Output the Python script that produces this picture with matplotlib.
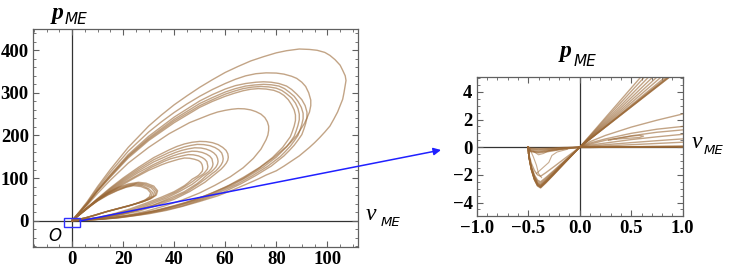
import matplotlib
matplotlib.use("Agg")
import matplotlib.pyplot as plt
from matplotlib.patches import Rectangle
from matplotlib.ticker import MultipleLocator

# ---- left panel: orbits in the (v_ME, p_ME) plane ----
outer_v = [0, 3, 6, 10, 15, 22, 30, 35, 40, 45, 50, 55, 60, 65, 70, 75, 80, 84, 89, 93,
           96, 99, 101, 103, 105, 106, 107, 107.3, 107, 106.5, 106, 105, 104, 102.5, 101, 99, 97, 95, 93, 91,
           89, 86, 83, 80, 76, 73, 70, 63, 57, 50, 43, 37, 30, 24, 17, 11, 5, 0]
outer_p = [0, 22, 45, 80, 120, 172, 222, 248, 272, 293, 313, 331, 348, 362, 375, 385, 394, 399, 403, 402,
           400, 395, 388, 378, 365, 353, 340, 329, 318, 300, 285, 270, 255, 238, 222, 208, 195, 183, 172, 162,
           152, 140, 128, 117, 107, 98, 90, 72, 58, 45, 33, 24, 16, 11, 6, 3, 1, 0]

second_v = [0, 3, 6, 10, 15, 22, 30, 35, 40, 45, 50, 55, 60, 64, 68, 72, 76, 80, 83, 86,
            88, 90, 91.5, 92.7, 93.5, 93.5, 93, 92, 91, 89.5, 88, 86, 84, 79, 73, 67, 60, 52, 44, 36,
            28, 20, 12, 5, 0]
second_p = [0, 21, 43, 76, 114, 163, 208, 232, 254, 274, 292, 308, 322, 332, 340, 345, 347, 346.5, 344, 339,
            334, 325, 315, 300, 283, 270, 255, 241, 228, 214, 200, 186, 174, 148, 122, 99, 78, 58, 41, 28,
            17, 10, 4, 1, 0]

mid_a_v = [0, 3, 6, 10, 15, 22, 30, 40, 50, 55, 60, 64, 68, 72, 75, 78, 81, 84, 86, 88,
           90, 91.3, 92, 92, 91.5, 90.8, 90, 88.5, 87, 85, 83, 78, 72, 66, 59, 51, 43, 35, 27, 19,
           11, 5, 0]
mid_a_p = [0, 20, 41, 72, 108, 155, 198, 243, 281, 296, 309, 317, 322, 325, 326, 325, 322, 316, 308, 297,
           284, 270, 255, 241, 228, 215, 202, 189, 177, 164, 152, 128, 106, 86, 66, 49, 34, 23, 14, 7,
           3, 1, 0]

mid_b_v = [0, 3, 6, 10, 15, 22, 30, 40, 50, 55, 60, 64, 68, 71.5, 75, 78, 81, 83.2, 85, 87,
           88.5, 89.8, 90.5, 90.5, 90, 89.3, 88.5, 87, 85.5, 83.5, 81.5, 76.5, 70.5, 64.5, 57.5, 50, 42, 34, 26, 18,
           10, 5, 0]
mid_b_p = [0, 20, 40, 71, 106, 152, 194, 238, 275, 289, 302, 310, 316, 318.5, 320, 319, 316, 310, 302, 292,
           280, 266, 252, 239, 226, 213, 200, 187, 175, 162, 150, 127, 105, 85, 66, 49, 35, 23, 14, 7,
           3, 1, 0]

mid_c_v = [0, 3, 6, 10, 15, 22, 30, 40, 50, 55, 60, 63.5, 67, 70.5, 74, 77, 80, 82.2, 84, 86,
           87.5, 88.5, 89, 89, 88.5, 87.8, 87, 85.5, 84, 82, 80, 75, 69, 63, 56, 49, 41, 33, 25, 17,
           10, 5, 0]
mid_c_p = [0, 20, 40, 70, 104, 150, 191, 234, 270, 284, 297, 304, 310, 313.5, 315, 314, 311, 305.5, 298, 288,
           276, 263, 250, 237, 224, 211, 198, 185, 173, 161, 149, 126, 104, 84, 65, 49, 35, 23, 14, 7,
           3, 1, 0]

mid_d_v = [0, 3, 6, 10, 15, 22, 30, 40, 50, 55, 60, 63.5, 67, 70, 73, 76, 79, 81.2, 83, 84.7,
           86, 87, 87.5, 87.5, 87, 86.3, 85.5, 84, 82.5, 80.5, 78.5, 73.5, 67.5, 61.5, 55, 48, 40, 32, 24, 17,
           10, 5, 0]
mid_d_p = [0, 19, 39, 69, 102, 147, 188, 230, 266, 280, 292, 299, 305, 308.5, 310, 309, 306, 301, 294, 284,
           272, 260, 248, 235, 222, 209.5, 197, 184.5, 172, 160, 148, 125, 103, 83, 65, 49, 35, 23, 14, 8,
           3, 1, 0]

inner_v = [0, 3, 6, 10, 15, 22, 30, 38, 46, 54, 57, 60, 62.5, 65, 67.5, 70, 72, 74, 75.5, 76.5,
           77, 77, 76.7, 76, 75, 74, 72.5, 71, 67, 62, 56, 50, 43, 36, 29, 22, 15, 8, 0]
inner_p = [0, 18, 37, 64, 95, 135, 172, 204, 230, 249, 255, 259, 261.5, 263, 262.5, 260, 256, 250, 242, 232,
           222, 212, 201, 190, 179, 168, 157, 146, 124, 103, 83, 65, 48, 34, 22, 13, 7, 3, 0]

g5a_v = [0, 3, 6, 10, 15, 20, 26, 32, 38, 41, 44, 47, 50, 52.5, 55, 57.2, 59, 60.3, 61, 61.2,
         61, 60.4, 59.5, 58.4, 57, 54.5, 52, 46, 40, 33, 26, 18, 10, 0]
g5a_p = [0, 15, 31, 52, 77, 100, 125, 148, 166, 174, 180, 184, 186, 185.5, 183, 178.5, 172, 165, 157, 149,
         142, 135, 128, 121, 114, 102, 90, 68, 50, 35, 22, 12, 5, 0]

g5b_v = [0, 3, 6, 10, 15, 20, 26, 32, 38, 41, 44, 46.5, 49, 51.5, 54, 56, 57.5, 58.6, 59, 59.2,
         59, 58.4, 57.5, 56.4, 55, 52.5, 50, 45, 39, 32, 25, 18, 10, 0]
g5b_p = [0, 15, 30, 51, 75, 97, 121, 143, 160, 167, 173, 176.5, 179, 178.5, 176, 171.5, 166, 159, 152, 145,
         138, 131, 124, 117, 111, 99, 88, 68, 51, 36, 23, 13, 5, 0]

g5c_v = [0, 3, 6, 10, 15, 20, 26, 32, 38, 40.5, 43, 45.5, 48, 50.5, 52.5, 54.2, 55.5, 56.5, 57, 57.2,
         57, 56.4, 55.5, 54.4, 53, 51, 49, 44, 38, 32, 25, 18, 10, 0]
g5c_p = [0, 15, 30, 50, 73, 94, 117, 138, 154, 160, 165, 168.5, 171, 170.5, 168, 164, 159, 153, 146, 139,
         133, 126, 120, 114, 108, 97, 87, 68, 52, 37, 24, 14, 6, 0]

g5d_v = [0, 3, 6, 10, 15, 20, 26, 32, 37, 39.5, 42, 44.5, 47, 49, 51, 52.7, 54, 54.8, 55, 55.2,
         55, 54.4, 53.5, 52.3, 51, 49, 47, 42, 37, 31, 25, 18, 10, 0]
g5d_p = [0, 14, 29, 49, 71, 91, 113, 132, 146, 152, 157, 160.5, 163, 162.5, 160, 156, 151, 145, 139, 133,
         127, 121, 115, 109.5, 104, 94, 85, 68, 53, 39, 26, 15, 6, 0]

g5e_v = [0, 3, 6, 10, 15, 20, 26, 31, 36, 38.5, 41, 43.5, 45.5, 47.5, 49.5, 51, 52, 52.8, 53, 53.2,
         53, 52.3, 51.5, 50.3, 49, 47, 45, 41, 36, 30, 24, 17, 10, 0]
g5e_p = [0, 14, 29, 48, 69, 88, 108, 125, 139, 145, 149, 152.5, 155, 154.5, 152, 148, 144, 138.5, 133, 127,
         121, 115.5, 110, 105, 100, 91, 83, 68, 54, 40, 27, 16, 6, 0]

g5f_v = [0, 3, 6, 10, 15, 20, 25, 30, 35, 37.5, 40, 42, 44, 46, 48, 49.5, 50.4, 50.9, 51.1, 51.2,
         51, 50.3, 49.5, 48.3, 47, 45.5, 44, 40, 35, 29, 23, 17, 10, 0]
g5f_p = [0, 14, 28, 47, 67, 85, 102, 118, 131, 136.5, 141, 144.5, 147, 146.5, 144, 141, 137, 132, 127, 121.5,
         116, 111, 106, 101.5, 97, 89, 82, 68, 55, 41, 28, 17, 7, 0]

small_a_v = [0, 2, 4, 7, 10, 14, 18, 22, 26, 29, 32, 33.5, 33, 31, 28, 24, 19, 14, 9, 5, 0]
small_a_p = [0, 10, 21, 36, 50, 66, 78, 86, 90, 88, 81, 70, 60, 52, 45, 38, 30, 22, 13, 6, 0]

small_b_v = [0, 2, 4, 7, 10, 14, 18, 22, 25.5, 28.5, 31.5, 33, 32.5, 30.5, 27.5, 23.5, 19, 14, 9, 5, 0]
small_b_p = [0, 10, 20, 35, 49, 64, 76, 84, 88, 86, 79, 69, 59, 51, 44, 37, 30, 22, 13, 6, 0]

small_c_v = [0, 2, 4, 7, 10, 14, 18, 22, 25, 28, 31, 32.3, 31.8, 30, 27, 23, 18.5, 14, 9, 5, 0]
small_c_p = [0, 10, 20, 35, 48, 63, 74, 82, 86, 84, 77, 68, 58, 50, 43, 36, 29, 22, 13, 6, 0]

small_d_v = [0, 2, 4, 7, 10, 14, 18, 21.5, 24.5, 27.5, 30, 31.5, 31, 29, 26, 22.5, 18, 13.5, 9, 5, 0]
small_d_p = [0, 10, 20, 34, 47, 61, 72, 80, 84, 82, 75, 66, 57, 49, 42, 35, 28, 21, 13, 6, 0]

small_e_v = [0, 2, 4, 7, 10, 14, 17.5, 21, 24, 27, 29.5, 30.8, 30.3, 28.5, 25.5, 22, 17.5, 13, 9, 5, 0]
small_e_p = [0, 10, 20, 34, 46, 60, 70, 78, 82, 80, 74, 65, 56, 48, 41, 34, 27, 20, 12, 6, 0]

# ---- right panel: neighbourhood of the origin ----
# end point of each upper branch where it leaves the frame (p = 5)
fan_top_v = [0.585, 0.62, 0.66, 0.70, 0.74, 0.78, 0.82, 0.84, 0.85, 0.86, 0.86]
# depth of the dip for v < 0, paired with fan_top_v
dip_p = [-2.5, -2.6, -2.7, -2.75, -2.8, -2.85, -2.9, -2.9, -2.95, -2.85, -2.1]

v_left_edge = -0.5
dip_v = [-0.49, -0.47, -0.44, -0.41, -0.38, -0.33, -0.25, -0.15]
dip_frac = [0.28, 0.55, 0.8, 0.95, 1.0, 0.88, 0.67, 0.4]

flat_v = [-0.5, -0.48, -0.4, -0.3, -0.15, 0.0]
flat_a_p = [0.0, -0.25, -0.32, -0.22, -0.1, 0.0]
flat_b_p = [0.0, -0.15, -0.2, -0.14, -0.06, 0.0]
flat_c_p = [0.0, -0.08, -0.1, -0.08, -0.03, 0.0]
flat_d_p = [0.0, -0.3, -0.4, -0.3, -0.12, 0.0]

wig_a_v = [-0.48, -0.45, -0.42, -0.40, -0.37]
wig_a_p = [-0.2, -0.7, -1.3, -1.9, -2.2]
wig_b_v = [-0.45, -0.40, -0.35, -0.30, -0.20, -0.10, 0.0]
wig_b_p = [-0.3, -0.55, -0.45, -0.25, -0.15, -0.05, 0.0]
wig_c_v = [-0.42, -0.36, -0.30, -0.27, -0.22, -0.12]
wig_c_p = [-1.9, -1.5, -1.1, -0.6, -0.35, -0.15]

low_v = [0.0, 0.1, 0.25, 0.5, 0.75, 1.0]
low_a_p = [0.0, 0.4, 0.85, 1.45, 1.95, 2.4]
low_b_p = [0.0, 0.3, 0.6, 1.0, 1.3, 1.5]
low_c_p = [0.0, 0.22, 0.5, 0.82, 1.08, 1.25]
low_d_p = [0.0, 0.15, 0.3, 0.55, 0.75, 0.93]
low_e_p = [0.0, 0.08, 0.18, 0.33, 0.47, 0.6]
low_f_p = [0.0, 0.04, 0.09, 0.18, 0.27, 0.36]
low_g_p = [0.0, 0.0, 0.01, 0.02, 0.03, 0.04]

knot_v = [0.28, 0.40, 0.50, 0.58, 0.62, 0.58, 0.48, 0.38, 0.30]
knot_p = [0.50, 0.68, 0.80, 0.85, 0.80, 0.70, 0.65, 0.60, 0.55]

brown = "#9a6836"
frame_col = "#606060"

fig = plt.figure(figsize=(7.32, 2.73), dpi=100)
ax1 = fig.add_axes([33 / 732, 26 / 273, 325 / 732, 218 / 273])
ax2 = fig.add_axes([476.7 / 732, 57.3 / 273, 206 / 732, 138.4 / 273])

left_loops = [(outer_v, outer_p), (second_v, second_p), (mid_a_v, mid_a_p), (mid_b_v, mid_b_p),
              (mid_c_v, mid_c_p), (mid_d_v, mid_d_p), (inner_v, inner_p),
              (g5a_v, g5a_p), (g5b_v, g5b_p), (g5c_v, g5c_p), (g5d_v, g5d_p), (g5e_v, g5e_p),
              (g5f_v, g5f_p), (small_a_v, small_a_p), (small_b_v, small_b_p),
              (small_c_v, small_c_p), (small_d_v, small_d_p), (small_e_v, small_e_p)]
for v, p in left_loops:
    ax1.plot(v, p, color=brown, lw=1.0, alpha=0.6, solid_joinstyle="round")

ax1.axhline(0, color="#333333", lw=0.9, zorder=1)
ax1.axvline(0, color="#333333", lw=0.9, zorder=1)
ax1.set_xlim(-15.3, 112)
ax1.set_ylim(-62, 450)
ax1.xaxis.set_minor_locator(MultipleLocator(5))
ax1.yaxis.set_minor_locator(MultipleLocator(20))
ax1.set_xticks([0, 20, 40, 60, 80, 100])
ax1.set_yticks([0, 100, 200, 300, 400])

# right panel: dip for v<0, then straight up branch through the origin
for vt, dp in zip(fan_top_v, dip_p):
    v = [v_left_edge] + dip_v + [0.0, vt]
    p = [0.0] + [dp * f for f in dip_frac] + [0.0, 5.0]
    ax2.plot(v, p, color=brown, lw=1.0, alpha=0.6)
for fp in [flat_a_p, flat_b_p, flat_c_p, flat_d_p]:
    ax2.plot(flat_v, fp, color=brown, lw=1.2, alpha=0.7)
ax2.plot([v_left_edge, v_left_edge], [0.0, -0.45], color=brown, lw=1.2, alpha=0.7)
for wv, wp in [(wig_a_v, wig_a_p), (wig_b_v, wig_b_p), (wig_c_v, wig_c_p)]:
    ax2.plot(wv, wp, color=brown, lw=0.8, alpha=0.55)
for lp in [low_a_p, low_b_p, low_c_p, low_d_p, low_e_p, low_f_p]:
    ax2.plot(low_v, lp, color=brown, lw=1.0, alpha=0.6)
for k in range(3):
    ax2.plot(low_v, low_g_p, color=brown, lw=1.3, alpha=0.8)
ax2.plot(knot_v, knot_p, color=brown, lw=0.9, alpha=0.6)

ax2.axhline(0, color="#333333", lw=0.9, zorder=1)
ax2.axvline(0, color="#333333", lw=0.9, zorder=1)
ax2.set_xlim(-1, 1)
ax2.set_ylim(-4.95, 5.05)
ax2.set_xticks([-1.0, -0.5, 0.0, 0.5, 1.0])
ax2.set_yticks([-4, -2, 0, 2, 4])
ax2.xaxis.set_minor_locator(MultipleLocator(0.1))
ax2.yaxis.set_minor_locator(MultipleLocator(0.5))
ax2.set_xticklabels(["\u22121.0", "\u22120.5", "0.0", "0.5", "1.0"])
ax2.set_yticklabels(["\u22124", "\u22122", "0", "2", "4"])

for ax in [ax1, ax2]:
    for s in ax.spines.values():
        s.set_color(frame_col)
        s.set_linewidth(0.9)
    ax.tick_params(which="both", direction="in", top=True, right=True, color=frame_col)
    ax.tick_params(which="major", length=4.5, width=0.8, pad=3)
    ax.tick_params(which="minor", length=2.5, width=0.6)
    for lab in ax.get_xticklabels() + ax.get_yticklabels():
        lab.set_fontfamily("Liberation Serif")
        lab.set_fontweight("bold")
        lab.set_fontsize(13.5)

# blue box around the origin and arrow to the zoomed panel
ax1.add_patch(Rectangle((-3, -16), 6, 21, fill=False, edgecolor="#3030ff", lw=1.0, zorder=5))
ax1.annotate("", xy=(441 / 732, 1 - 150 / 273), xycoords="figure fraction",
             xytext=(3, -1), textcoords="data", annotation_clip=False,
             arrowprops=dict(arrowstyle="-|>", color="#2020ff", lw=1.1,
                             mutation_scale=11, shrinkA=0, shrinkB=0))

# axis names
fig.text(58 / 732, 1 - 13 / 273, "p", family="Liberation Serif", style="italic",
         weight="bold", size=17, ha="center", va="center")
fig.text(76 / 732, 1 - 19 / 273, "ME", family="DejaVu Sans", style="italic",
         size=11, ha="center", va="center")
fig.text(566 / 732, 1 - 52 / 273, "p", family="Liberation Serif", style="italic",
         weight="bold", size=17, ha="center", va="center")
fig.text(585 / 732, 1 - 61 / 273, "ME", family="DejaVu Sans", style="italic",
         size=11, ha="center", va="center")
fig.text(371 / 732, 1 - 215 / 273, "v", family="Liberation Serif", style="italic",
         size=17, ha="center", va="center")
fig.text(391 / 732, 1 - 223 / 273, "ME", family="DejaVu Sans", style="italic",
         size=9.5, ha="center", va="center")
fig.text(697 / 732, 1 - 142 / 273, "v", family="Liberation Serif", style="italic",
         size=17, ha="center", va="center")
fig.text(714 / 732, 1 - 151 / 273, "ME", family="DejaVu Sans", style="italic",
         size=9.5, ha="center", va="center")
fig.text(55 / 732, 1 - 236 / 273, "O", family="DejaVu Sans", style="italic",
         size=12, ha="center", va="center")

fig.savefig("out.png", dpi=100)
